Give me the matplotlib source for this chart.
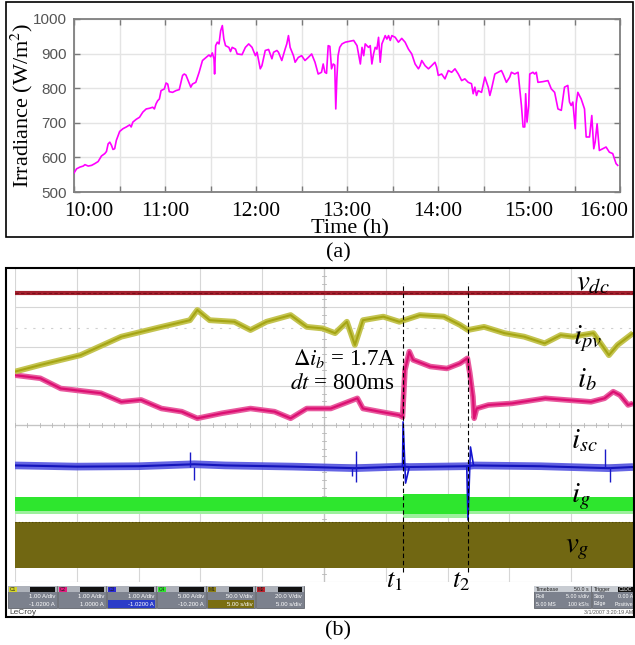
import matplotlib
matplotlib.use('Agg')
import matplotlib.pyplot as plt
from matplotlib.patches import Rectangle
from matplotlib.transforms import ScaledTranslation

plt.rcParams['mathtext.fontset'] = 'stix'
plt.rcParams['font.family'] = ['Liberation Serif', 'DejaVu Serif']

W, H = 635, 645

# ---------------- (a) irradiance data ----------------
time_min = [0, 1.7, 3.9, 6.1, 7.2, 9.4, 11.6, 13.7, 15.9, 18.1, 20.3, 21.4, 22.5, 23.6, 24.7, 25.7,
            26.8, 27.9, 30.1, 32.3, 34.5, 36.7, 37.7, 38.8, 41.0, 43.2, 45.4, 47.6, 49.8, 51.9, 53.0,
            54.1, 55.2, 56.3, 57.4, 59.6, 60.7, 61.8, 62.8, 65.0, 67.2, 69.4, 71.6, 72.7, 73.8, 74.8,
            77.0, 78.1, 80.3, 82.5, 84.7, 86.8, 89.0, 90.1, 91.2, 92.3, 92.7, 93.4, 94.5, 95.6, 96.7,
            97.8, 98.8, 99.9, 102.1, 103.2, 104.3, 106.5, 107.6, 110.8, 113.0, 115.2, 117.4, 119.6,
            120.7, 122.8, 123.9, 126.1, 128.3, 130.5, 131.6, 133.8, 134.8, 137.0, 139.2, 140.3, 141.4,
            142.5, 144.7, 145.8, 147.9, 150.1, 152.3, 154.5, 156.7, 158.9, 161.0, 163.2, 164.3, 165.4,
            166.5, 167.6, 168.7, 169.8, 170.9, 171.9, 172.6, 173.3, 174.1, 175.2,
            176.7, 178.9, 181.1, 184.4, 186.6, 188.8, 189.9, 191.0, 192.0, 194.2, 195.3, 196.4, 197.5,
            198.6, 199.7, 200.8, 201.9, 203.0, 205.2, 206.3, 207.4, 208.5, 209.6, 211.8, 213.9, 216.1,
            218.3, 220.5, 222.7, 224.9, 227.1, 228.2, 229.3, 231.5, 233.7, 235.8, 238.0, 239.1, 240.2,
            242.4, 244.6, 246.8, 249.0, 251.2, 253.4, 255.6, 257.7, 259.9, 262.1, 263.2, 264.3, 265.4,
            266.5, 268.7, 270.9, 273.1, 274.2, 275.3, 277.5, 279.6, 281.8, 282.9, 285.1, 287.3, 288.4,
            290.6, 292.8, 293.9, 295.0, 296.1, 297.2, 297.8, 298.7, 299.8, 300.5, 302.6, 303.7, 304.8,
            305.9, 309.2, 312.5, 314.7, 316.9, 319.1, 321.3, 323.4, 325.6, 326.7, 327.8, 328.9, 330.5,
            331.1, 332.2, 334.4, 336.6, 337.7, 339.9, 341.4, 342.7, 343.6, 344.9, 346.4, 348.6, 350.8,
            353.0, 355.2, 357.4, 358.5]
irradiance = [555, 567, 572, 575, 579, 575, 577, 582, 588, 604, 611, 617, 639, 644, 635, 623,
              625, 649, 675, 683, 688, 694, 688, 702, 710, 716, 731, 740, 742, 745, 740,
              755, 764, 769, 793, 798, 815, 812, 790, 788, 793, 796, 837, 841, 838, 827,
              803, 812, 817, 846, 880, 888, 896, 891, 902, 885, 841, 923, 933, 928, 966,
              981, 942, 923, 918, 906, 918, 913, 899, 897, 918, 928, 918, 894,
              904, 856, 865, 909, 912, 885, 904, 909, 904, 880, 913, 928, 952,
              918, 894, 875, 889, 894, 880, 889, 899, 875, 841, 846, 870, 846,
              843, 923, 921, 856, 870, 867, 740, 827, 894, 918,
              928, 933, 935, 938, 923, 870, 918, 894, 928, 918, 923, 870, 899,
              918, 913, 947, 875, 928, 952, 942, 952, 938, 952, 947, 933, 944,
              933, 913, 899, 870, 856, 865, 880, 865, 856, 865, 875, 861, 837,
              841, 827, 851, 846, 856, 841, 822, 827, 817, 813, 784, 803, 779,
              793, 788, 832, 803, 779, 798, 841, 846, 851, 841, 817, 832, 846,
              841, 846, 798, 750, 688, 688, 784, 702, 750, 841, 846, 841, 846,
              817, 819, 822, 798, 788, 740, 736, 803, 808, 760, 750, 760, 683,
              755, 788, 769, 740, 659, 659, 721, 625, 644, 697, 620, 625, 630,
              615, 611, 582, 577]
xtick_min = [0, 30, 60, 90, 120, 150, 180, 210, 240, 270, 300, 330, 360]
xtick_labels = ['10:00', '', '11:00', '', '12:00', '', '13:00', '', '14:00', '', '15:00', '', '16:00']
ytick_vals = [500, 600, 700, 800, 900, 1000]

# ---------------- (b) oscilloscope traces (divisions) ----------------
vdc_x = [0, 10]
vdc_y = [7.36, 7.36]
ipv_x = [0.0, 0.41, 1.06, 1.72, 2.37, 2.83, 2.95, 3.15, 3.55, 3.81, 4.07, 4.46, 4.72, 4.98, 5.18, 5.37,
         5.50, 5.63, 5.96, 6.22, 6.55, 6.94, 7.20, 7.33, 7.59, 7.92, 8.24, 8.57, 8.83, 9.03, 9.36, 9.61,
         9.75, 10.0]
ipv_y = [5.36, 5.53, 5.78, 6.25, 6.50, 6.67, 6.93, 6.67, 6.63, 6.42, 6.63, 6.80, 6.50, 6.46, 6.34, 6.63,
         6.04, 6.67, 6.76, 6.63, 6.80, 6.76, 6.55, 6.42, 6.50, 6.34, 6.25, 6.08, 6.29, 6.25, 6.34, 5.78,
         6.04, 6.34]
ib_x = [0.0, 0.41, 0.74, 1.39, 1.72, 2.04, 2.37, 2.70, 2.95, 3.35, 3.81, 4.20, 4.46, 4.72, 5.11, 5.54,
        5.63, 5.90, 6.22, 6.27, 6.31, 6.38, 6.44, 6.72, 6.99, 7.20, 7.32, 7.36, 7.41, 7.43, 7.47, 7.66,
        8.04, 8.58, 8.90, 9.32, 9.54, 9.68, 9.79, 9.92, 10.0]
ib_y = [5.27, 5.19, 4.93, 4.81, 4.59, 4.64, 4.42, 4.34, 4.17, 4.30, 4.42, 4.34, 4.17, 4.42, 4.42, 4.68,
        4.42, 4.34, 4.25, 4.20, 5.40, 5.87, 5.66, 5.49, 5.44, 5.57, 5.70, 5.32, 4.72, 4.17, 4.42, 4.51,
        4.55, 4.68, 4.64, 4.59, 4.68, 4.85, 4.76, 4.51, 4.55]
isc_x = [0, 1.0, 2.0, 2.9, 3.4, 4.5, 5.5, 6.27, 6.38, 7.31, 7.42, 8.5, 9.6, 10]
isc_y = [2.97, 2.94, 2.95, 3.0, 2.97, 2.94, 2.90, 2.94, 2.93, 2.95, 2.97, 2.95, 2.90, 2.93]
isc_t1_x = [6.27, 6.28, 6.32, 6.38]
isc_t1_y = [2.94, 4.08, 2.52, 2.93]
isc_t2_x = [7.31, 7.33, 7.37, 7.42]
isc_t2_y = [2.95, 1.58, 3.44, 2.97]
isc_spk_x = [2.83, 2.90, 5.45, 5.52, 9.55, 9.62]
isc_spk_lo = [2.93, 2.60, 2.70, 2.55, 2.93, 2.55]
isc_spk_hi = [3.30, 2.93, 2.93, 3.35, 3.38, 2.93]
ig_x = [0, 6.28, 6.28, 7.33, 7.33, 10]
ig_hi = [2.17, 2.17, 2.25, 2.25, 2.17, 2.17]
ig_lo = [1.80, 1.80, 1.72, 1.72, 1.80, 1.80]
vg_x = [0, 10]
vg_hi = [1.53, 1.53]
vg_lo = [0.36, 0.36]
t_marks = [6.28, 7.33]

fig = plt.figure(figsize=(W / 100, H / 100), dpi=100)


def fx(x):
    return x / W


def fy(y):
    return 1 - y / H


def prect(x0, y0, x1, y1, **kw):
    r = Rectangle((fx(x0), fy(y1)), (x1 - x0) / W, (y1 - y0) / H, transform=fig.transFigure, **kw)
    fig.add_artist(r)
    return r


def ptext(x, y, s, **kw):
    return fig.text(fx(x), fy(y), s, **kw)


# ---------------- panel (a) ----------------
ax = fig.add_axes([fx(74), fy(192), (620 - 74) / W, (192 - 19) / H])
ax.plot(time_min, irradiance, color='#ff00ff', lw=1.2, zorder=3)
ax.set_xlim(0, 360)
ax.set_ylim(500, 1000)
ax.set_xticks(xtick_min)
ax.set_xticklabels(xtick_labels, fontsize=15.5, family='Liberation Serif')
ax.set_yticks(ytick_vals)
ax.set_yticklabels([str(v) for v in ytick_vals], fontsize=11, family='Liberation Sans', color='#555555')
ax.grid(True, color='#e4e4e4', lw=1.0, zorder=0)
ax.tick_params(direction='in', length=4, width=1, color='#7a7a7a', top=True, right=True)
ax.tick_params(axis='x', pad=7)
ax.tick_params(axis='y', pad=5)
for s in ax.spines.values():
    s.set_color('#7f7f7f')
    s.set_linewidth(1.3)
lbls = ax.get_xticklabels()
lbls[0].set_transform(lbls[0].get_transform() + ScaledTranslation(15 / 100, 0, fig.dpi_scale_trans))
lbls[-1].set_transform(lbls[-1].get_transform() + ScaledTranslation(-16 / 100, 0, fig.dpi_scale_trans))

ptext(22, 105, 'Irradiance (W/m$^2$)', rotation=90, ha='center', va='center', fontsize=16)
ptext(350, 229, 'Time (h)', ha='center', va='center', fontsize=16)
ptext(338, 253, '(a)', ha='center', va='center', fontsize=16)
prect(6, 2, 633, 237, fill=False, ec='black', lw=1.2, zorder=10)

# ---------------- panel (b) ----------------
bx = fig.add_axes([fx(15), fy(582), (633 - 15) / W, (582 - 268) / H])
bx.set_xlim(0, 10)
bx.set_ylim(0, 8)
bx.axis('off')
for i in range(0, 11):
    bx.axvline(i, color='#d6d6d6', lw=0.8, zorder=0)
for j in range(0, 9):
    bx.axhline(j, color='#d6d6d6', lw=0.8, zorder=0)
bx.axvline(5, color='#c4c4c4', lw=0.9, zorder=0)
bx.axhline(4, color='#c4c4c4', lw=0.9, zorder=0)
for k in range(51):
    bx.plot([k * 0.2, k * 0.2], [3.95, 4.05], color='#b8b8b8', lw=0.6, zorder=0)
for k in range(41):
    bx.plot([4.97, 5.03], [k * 0.2, k * 0.2], color='#b8b8b8', lw=0.6, zorder=0)
bx.axhline(6.47, color='#d0d0d0', lw=0.8, ls=(0, (2, 6)), zorder=0)

# v_g block
bx.fill_between(vg_x, vg_lo, vg_hi, color='#716712', lw=0, zorder=2)
bx.plot(vg_x, vg_hi, color='#4e470a', lw=0.8, ls=(0, (1, 2)), zorder=2)
# i_g band
bx.fill_between(ig_x, ig_lo, ig_hi, color='#2ee62e', lw=0, zorder=2)
bx.fill_between(ig_x, [v - 0.08 for v in ig_lo], ig_lo, color='#9cf09c', lw=0, zorder=2)
# i_sc
bx.plot(isc_x, isc_y, color='#4a4ae0', lw=5.5, alpha=0.85, solid_capstyle='butt', zorder=3)
bx.plot(isc_x, isc_y, color='#1414bb', lw=1.5, zorder=3)
bx.vlines(isc_spk_x, isc_spk_lo, isc_spk_hi, color='#1a1ac8', lw=1.0, zorder=3)
bx.plot(isc_t1_x, isc_t1_y, color='#1414d0', lw=1.2, zorder=4)
bx.plot(isc_t2_x, isc_t2_y, color='#1414d0', lw=1.2, zorder=4)
# i_b
bx.plot(ib_x, ib_y, color='#e85a9e', lw=4.0, solid_capstyle='butt', zorder=3)
bx.plot(ib_x, ib_y, color='#dc0f72', lw=1.6, zorder=3)
# i_pv
bx.plot(ipv_x, ipv_y, color='#c4c450', lw=4.2, solid_capstyle='butt', zorder=3)
bx.plot(ipv_x, ipv_y, color='#a5a514', lw=1.5, zorder=3)
# v_dc
bx.plot(vdc_x, vdc_y, color='#a3202e', lw=3.0, solid_capstyle='butt', zorder=3)
bx.plot(vdc_x, vdc_y, color='#7a0e1a', lw=0.8, ls=(0, (3, 2)), zorder=3)
# t1/t2 markers
for t in t_marks:
    bx.plot([t, t], [0.25, 7.62], color='black', lw=0.8, ls=(0, (4, 2.5)), zorder=5)

# labels
lab_kw = dict(fontsize=21, ha='left', va='baseline')
ptext(576, 290, r'$v_{dc}$', **lab_kw)
ptext(573, 344, r'$i_{pv}$', **lab_kw)
ptext(577, 387, r'$i_{b}$', **lab_kw)
ptext(571, 448, r'$i_{sc}$', **lab_kw)
ptext(571, 502, r'$i_{g}$', **lab_kw)
ptext(565, 552, r'$v_{g}$', **lab_kw)
ptext(386, 587, r'$t_1$', fontsize=19, ha='left', va='baseline')
ptext(452, 587, r'$t_2$', fontsize=19, ha='left', va='baseline')
ptext(396, 365, r'$\Delta i_b$ = 1.7A', fontsize=16.5, ha='right', va='baseline')
ptext(394, 389, r'$dt$ = 800ms', fontsize=16.5, ha='right', va='baseline')

# status bar boxes
ch_names = ['C1', 'C2', 'C3', 'C4', 'M1', 'M2']
ch_x0 = [8, 58, 107, 157, 207, 256]
ch_x1 = [57, 106, 156, 206, 255, 304]
ch_col = ['#d4d42a', '#e3197d', '#2a2ad8', '#2ee62e', '#8c7e10', '#c0202a']
ch_line1 = ['1.00 A/div', '1.00 A/div', '1.00 A/div', '5.00 A/div', '50.0 V/div', '20.0 V/div']
ch_line2 = ['-1.0200 A', '1.0000 A', '-1.0200 A', '-10.200 A', '5.00 s/div', '5.00 s/div']
ch_hl = [None, None, '#2a3cc8', None, '#7a6e12', None]
sans = ['Liberation Sans', 'DejaVu Sans']
for n, x0, x1, c, l1, l2, hl in zip(ch_names, ch_x0, ch_x1, ch_col, ch_line1, ch_line2, ch_hl):
    prect(x0, 586, x1, 608, fc='#7c818d', ec='#50545c', lw=0.5, zorder=6)
    prect(x0, 586, x1, 592, fc='#aeb2ba', ec='none', zorder=6)
    prect(x0 + 1, 586.5, x0 + 9, 591.5, fc=c, ec='none', zorder=7)
    prect(x0 + 22, 587, x1 - 2, 591.5, fc='#111111', ec='none', zorder=7)
    if hl:
        prect(x0 + 1, 600, x1 - 1, 607.5, fc=hl, ec='none', zorder=6)
    ptext(x0 + 2, 589.5, n, fontsize=3.5, family=sans, color='#202020', va='center', zorder=8)
    ptext(x1 - 2, 596.5, l1, fontsize=4.3, family=sans, color='white', ha='right', va='center', zorder=8)
    ptext(x1 - 2, 604, l2, fontsize=4.3, family=sans, color='white', ha='right', va='center', zorder=8)

prect(534, 586, 591, 608, fc='#7c818d', ec='#50545c', lw=0.5, zorder=6)
prect(534, 586, 591, 592, fc='#c8ccd2', ec='none', zorder=6)
ptext(536, 589.5, 'Timebase', fontsize=3.8, family=sans, color='#202020', va='center', zorder=8)
ptext(589, 589.5, '50.0 s', fontsize=3.8, family=sans, color='#202020', ha='right', va='center', zorder=8)
ptext(536, 596.5, 'Roll', fontsize=3.8, family=sans, color='white', va='center', zorder=8)
ptext(589, 596.5, '5.00 s/div', fontsize=3.8, family=sans, color='white', ha='right', va='center', zorder=8)
ptext(536, 604, '5.00 MS', fontsize=3.8, family=sans, color='white', va='center', zorder=8)
ptext(589, 604, '100 kS/s', fontsize=3.8, family=sans, color='white', ha='right', va='center', zorder=8)

prect(592, 586, 634, 608, fc='#7c818d', ec='#50545c', lw=0.5, zorder=6)
prect(592, 586, 634, 592, fc='#c8ccd2', ec='none', zorder=6)
prect(618, 586.5, 634, 591.5, fc='#111111', ec='none', zorder=7)
ptext(594, 589.5, 'Trigger', fontsize=3.8, family=sans, color='#202020', va='center', zorder=8)
ptext(619, 589.5, 'C1DC', fontsize=3.5, family=sans, color='white', va='center', zorder=8)
ptext(594, 596.5, 'Stop', fontsize=3.8, family=sans, color='white', va='center', zorder=8)
ptext(633, 596.5, '0.00 A', fontsize=3.8, family=sans, color='white', ha='right', va='center', zorder=8)
ptext(594, 604, 'Edge', fontsize=3.8, family=sans, color='white', va='center', zorder=8)
ptext(633, 604, 'Positive', fontsize=3.8, family=sans, color='white', ha='right', va='center', zorder=8)

ptext(9, 613, 'LeCroy', fontsize=6, family=sans, color='#444444', va='center', zorder=8)
ptext(633, 613, '3/1/2007 3:20:19 AM', fontsize=3.8, family=sans, color='#555555', ha='right', va='center', zorder=8)

prect(6, 268, 634, 617, fill=False, ec='black', lw=1.5, zorder=10)
ptext(338, 631, '(b)', ha='center', va='center', fontsize=16)

fig.savefig('out.png', dpi=100)
